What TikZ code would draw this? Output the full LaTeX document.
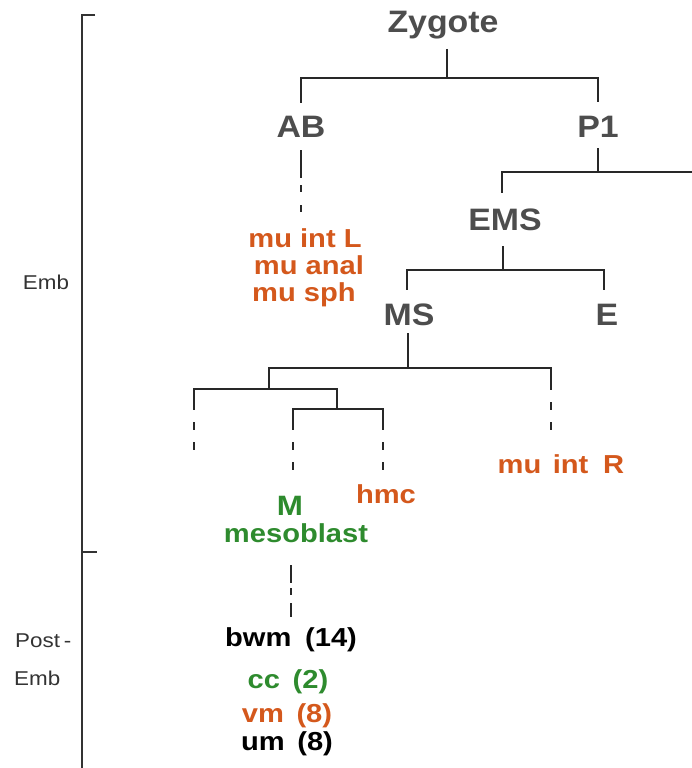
\documentclass[tikz,border=0pt]{standalone}
\usepackage{fontspec}
\setmainfont{Liberation Sans}
\usetikzlibrary{calc}
\definecolor{cellgrey}{RGB}{77,77,77}
\definecolor{fateorange}{RGB}{212,88,28}
\definecolor{fategreen}{RGB}{46,139,46}
\definecolor{linegrey}{RGB}{40,40,40}
\definecolor{sidegrey}{RGB}{51,51,51}

\begin{document}
\begin{tikzpicture}[x=1pt,y=-1pt,
  lbl/.style={inner sep=0pt, anchor=base, xscale=1.12},
  cell/.style={lbl, xscale=0.975, text=cellgrey, font=\fontsize{31}{36}\selectfont\bfseries},
  fate/.style={lbl, font=\fontsize{26}{30}\selectfont\bfseries},
  orangefate/.style={fate, text=fateorange},
  greenfate/.style={fate, text=fategreen},
  blackfate/.style={fate, text=black},
  stage/.style={inner sep=0pt, anchor=base, xscale=1.12, text=sidegrey, font=\fontsize{20}{24}\selectfont},
  tree/.style={draw=linegrey, line width=2.4pt},
  trail/.style={tree, dash pattern=on 8pt off 12pt, dash phase=8pt},
  bracket/.style={draw=sidegrey, line width=1.6pt}]

\fill[white] (0,0) rectangle (692,768);
\useasboundingbox (0,0) rectangle (692,768);

% cells of the lineage
\node[cell] (zyg) at (443,33) {Zygote};
\node[cell] (ab) at (301,137) {AB};
\node[cell] (p1) at (598,137) {P1};
\node[cell] (ems) at (505,230) {EMS};
\node[cell] (ms) at (409,325) {MS};
\node[cell] (e) at (607,325) {E};

% fates
\node[orangefate] (mu1) at (305,247) {mu int L};
\node[orangefate] (mu2) at (309,274) {mu anal};
\node[orangefate] (mu3) at (304,301) {mu sph};
\node[orangefate] (muR) at (561,473) {mu\hspace{3pt} int\hspace{6pt} R};
\node[orangefate] (hmc) at (386,503) {hmc};
\node[greenfate, font=\fontsize{28}{32}\selectfont\bfseries] (m) at (290,515) {M};
\node[greenfate] (meso) at (296,542) {mesoblast};
\node[blackfate] (bwm) at (291,646) {bwm\hspace{5pt} (14)};
\node[greenfate] (cc) at (288,688) {cc\hspace{4pt} (2)};
\node[orangefate] (vm) at (287,722) {vm\hspace{4pt} (8)};
\node[blackfate] (um) at (287,750) {um\hspace{4pt} (8)};

% Zygote -> AB, P1
\draw[tree] ([xshift=4pt,yshift=-16pt]zyg.base) -- ++(0,29) coordinate (zj) -| ([yshift=34pt]ab.base);
\draw[tree] (zj) -| ([yshift=35pt]p1.base);

% P1 -> EMS and the sister running off to the right
\draw[tree] ([yshift=-11pt]p1.base) -- ++(0,24) coordinate (pj) -| ([xshift=-3pt,yshift=37pt]ems.base);
\coordinate (pr) at (694,172);
\draw[tree] (pj) -- (pr);

% EMS -> MS, E
\draw[tree] ([xshift=-2pt,yshift=-16pt]ems.base) -- ++(0,24) coordinate (ej) -| ([xshift=-2pt,yshift=35pt]ms.base);
\draw[tree] (ej) -| ([xshift=-3pt,yshift=35pt]e.base);

% MS sublineage
\coordinate (k1) at (269,389);
\coordinate (k2) at (337,409);
\coordinate (lf) at (194,452);
\draw[tree] ([xshift=-1pt,yshift=-8pt]ms.base) -- ++(0,35) coordinate (mj) -| ([xshift=-10pt,yshift=83pt]muR.base) coordinate (rs);
\draw[trail] (rs) -- ([xshift=-10pt,yshift=43pt]muR.base);
\draw[tree] (mj) -| (k1) -| ($(lf)+(0,-42)$) coordinate (ls);
\draw[trail] (ls) -- (lf);
\draw[tree] (k1) -| (k2);
\draw[tree] (k2) -| ([xshift=3pt,yshift=85pt]m.base) coordinate (ms1);
\draw[trail] (ms1) -- ([xshift=3pt,yshift=43pt]m.base);
\draw[tree] (k2) -| ([xshift=-3pt,yshift=73pt]hmc.base) coordinate (hs);
\draw[trail] (hs) -- ([xshift=-3pt,yshift=31pt]hmc.base);

% AB -> its muscles
\draw[tree] ([yshift=-13pt]ab.base) -- ([yshift=-41pt]ab.base) coordinate (as);
\draw[trail, dash pattern=on 7pt off 13pt, dash phase=13pt] (as) -- ([xshift=-4pt,yshift=35pt]mu1.base);

% mesoblast -> post-embryonic fates
\draw[tree, dash pattern=on 18pt off 5pt on 7pt off 8pt on 14pt off 20pt]
  ([xshift=-5pt,yshift=-23pt]meso.base) -- ([yshift=29pt]bwm.base);

% stage bracket
\coordinate (bt) at (82,15);
\coordinate (bb) at (82,770);
\coordinate (bm) at (82,552);
\draw[bracket] ($(bt)+(13,0)$) -- (bt) -- (bb);
\draw[bracket] (bm) -- ++(15,0);

\node[stage] (emb) at (46,289) {Emb};
\node[stage, anchor=base west] (post) at (15,647) {Post\,-};
\node[stage, anchor=base west] (emb2) at (14,685) {Emb};
\end{tikzpicture}
\end{document}
